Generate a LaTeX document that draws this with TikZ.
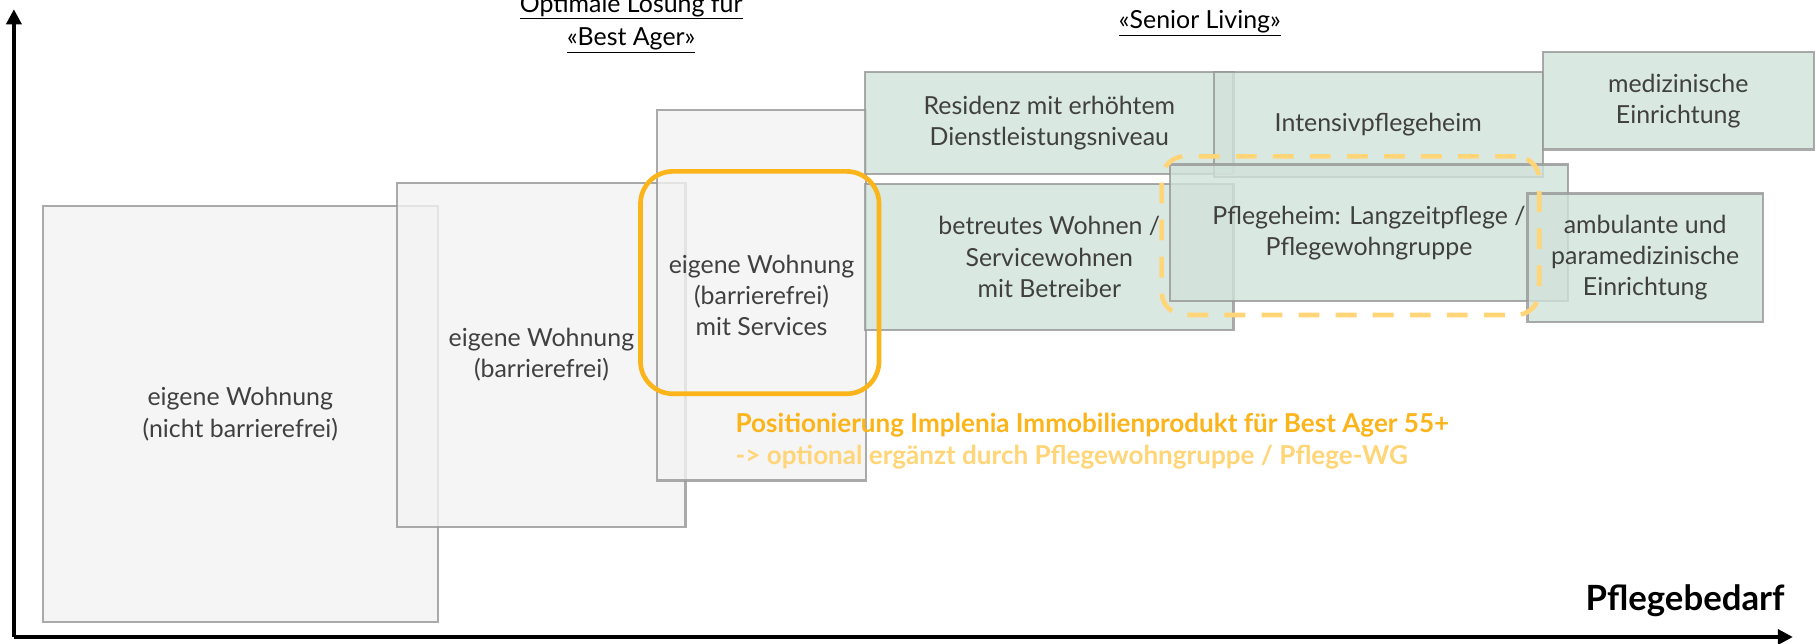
\documentclass[tikz,border=0pt]{standalone}
\usepackage{fontspec}
\setmainfont{Lato}
\usetikzlibrary{arrows.meta}
\definecolor{txt}{HTML}{404040}
\definecolor{grayfill}{HTML}{F2F2F2}
\definecolor{greenfill}{HTML}{D1E2DB}
\definecolor{boxline}{HTML}{969696}
\definecolor{orangeA}{HTML}{FBB41A}
\definecolor{orangeB}{HTML}{FFD578}
\tikzset{
  graybox/.style={draw=boxline, fill=grayfill, line width=2pt, fill opacity=0.8, draw opacity=0.8,
    text opacity=1, text=txt, align=center, inner sep=0pt, font=\fontsize{21.5}{27}\selectfont},
  greenbox/.style={graybox, fill=greenfill},
  axis/.style={line width=3pt, -{Triangle[length=13pt,width=13pt]}},
  toplabel/.style={align=center, font=\fontsize{21.5}{29}\selectfont, text=black, inner sep=0pt},
  postext/.style={anchor=west, inner sep=0pt, font=\bfseries\fontsize{22.5}{26}\selectfont},
}
\begin{document}
\begin{tikzpicture}[x=1pt,y=-1pt]
\useasboundingbox (0,0) rectangle (1568,556);
% axes
\coordinate (o) at (12,550);
\coordinate (ytop) at (12,8);
\coordinate (xend) at (1548,550);
\draw[axis] (o) -- (ytop);
\draw[axis] (o) -- (xend);
\node[anchor=base east, inner sep=0pt, font=\bfseries\fontsize{30}{34}\selectfont] (pb) at (1541,527) {Pflegebedarf};
% gray boxes
\node[graybox, minimum width=341, minimum height=359] (b1) at (207.5,357.5) {eigene Wohnung\\(nicht barrierefrei)};
\node[graybox, minimum width=249, minimum height=297] (b2) at (467.5,306.5) {eigene Wohnung\\(barrierefrei)};
\node[graybox, minimum width=181, minimum height=320] (b3) at (657.5,255) {eigene Wohnung\\(barrierefrei)\\mit Services};
% green boxes
\node[greenbox, minimum width=318, minimum height=88] (g1) at (906,106) {\raisebox{-6pt}{\parbox{300pt}{\centering Residenz mit erhöhtem\\Dienstleistungsniveau}}};
\node[greenbox, minimum width=318, minimum height=126] (g2) at (906,222) {betreutes Wohnen /\\Servicewohnen\\mit Betreiber};
\node[greenbox, minimum width=284, minimum height=91] (g3) at (1190,107.5) {Intensivpflegeheim};
\node[greenbox, minimum width=234, minimum height=84] (g4) at (1449,87) {medizinische\\Einrichtung};
\node[greenbox, minimum width=344, minimum height=118] (g5) at (1182,201) {Pflegeheim: Langzeitpflege /\\Pflegewohngruppe};
\node[greenbox, minimum width=203, minimum height=111] (g6) at (1420.5,222.5) {ambulante und\\paramedizinische\\Einrichtung};
% highlight frames
\node[draw=orangeA, line width=4pt, rounded corners=28pt, minimum width=206, minimum height=192] (opt) at (656,244) {};
\node[draw=orangeB, line width=4pt, rounded corners=20pt, dash pattern=on 18pt off 14pt, minimum width=326, minimum height=137] (pfl) at (1166,203.5) {};
% top labels
\node[toplabel] (best) at (545,20) {\underline{Optimale Lösung für}\\\underline{«Best Ager»}};
\node[toplabel] (senior) at (1036,20) {\underline{«Senior Living»}};
% positioning text
\node[postext, text=orangeA] (pos1) at (635,367) {Positionierung Implenia Immobilienprodukt für Best Ager 55+};
\node[postext, text=orangeB] (pos2) at (635,395) {-> optional ergänzt durch Pflegewohngruppe / Pflege-WG};
\end{tikzpicture}
\end{document}
